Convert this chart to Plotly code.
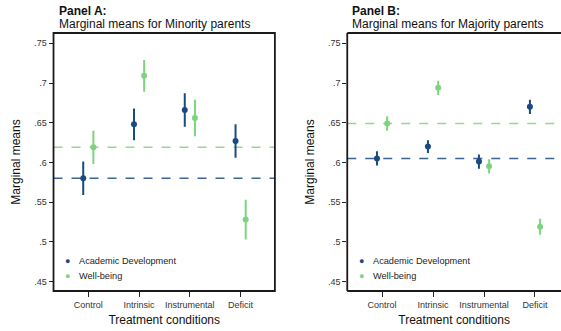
import plotly.graph_objects as go

# Treatment conditions on the x axis
conditions = ["Control", "Intrinsic", "Instrumental", "Deficit"]
x_pos = [1, 2, 3, 4]

# Panel A: minority parents
minority_academic = [0.580, 0.648, 0.666, 0.627]
minority_academic_ci = [0.021, 0.020, 0.021, 0.021]
minority_wellbeing = [0.619, 0.709, 0.656, 0.528]
minority_wellbeing_ci = [0.021, 0.020, 0.023, 0.025]

# Panel B: majority parents
majority_academic = [0.605, 0.620, 0.601, 0.670]
majority_academic_ci = [0.009, 0.008, 0.009, 0.009]
majority_wellbeing = [0.649, 0.694, 0.595, 0.519]
majority_wellbeing_ci = [0.009, 0.009, 0.009, 0.010]

series_names = ["Academic Development", "Well-being"]

y_ticks = [0.45, 0.50, 0.55, 0.60, 0.65, 0.70, 0.75]
y_tick_text = [".45", ".5", ".55", ".6", ".65", ".7", ".75"]

BLUE = "#1a4a80"
GREEN = "#7fd37f"
FONT = "Liberation Sans, Arial, sans-serif"
OFFSET = 0.1

fig = go.Figure()

panels = [
    ("x", "y", minority_academic, minority_academic_ci,
     minority_wellbeing, minority_wellbeing_ci),
    ("x2", "y2", majority_academic, majority_academic_ci,
     majority_wellbeing, majority_wellbeing_ci),
]

for xa, ya, ac, ac_ci, wb, wb_ci in panels:
    for name, vals, ci, col, off in [
        (series_names[0], ac, ac_ci, BLUE, -OFFSET),
        (series_names[1], wb, wb_ci, GREEN, OFFSET),
    ]:
        fig.add_trace(go.Scatter(
            x=[p + off for p in x_pos], y=vals, mode="markers", name=name,
            marker=dict(color=col, size=6),
            error_y=dict(type="data", array=ci, visible=True, color=col,
                         thickness=2, width=0),
            xaxis=xa, yaxis=ya, showlegend=False,
        ))
    # reference lines at the control-condition means
    for vals, col in [(wb, GREEN), (ac, BLUE)]:
        fig.add_shape(type="line", xref=f"{xa} domain", yref=ya,
                      x0=0, x1=1, y0=vals[0], y1=vals[0],
                      line=dict(color=col, width=1.6, dash="dash"),
                      opacity=0.85, layer="below")

A_DOM = [0.0954, 0.490]
B_DOM = [0.619, 1.0]
Y_DOM = [0.1208, 0.9003]

y_common = dict(range=[0.438, 0.763], tickvals=y_ticks, ticktext=y_tick_text,
                showgrid=False, zeroline=False, ticks="outside", ticklen=4,
                tickcolor="#222", tickfont=dict(size=9, color="#333"),
                showline=False, domain=Y_DOM)
x_common = dict(tickvals=x_pos, ticktext=conditions, showgrid=False,
                zeroline=False, ticks="outside", ticklen=5, tickcolor="#222",
                tickfont=dict(size=9, color="#333"), showline=False,
                title=dict(text="Treatment conditions",
                           font=dict(size=12, color="#111"), standoff=6))

fig.update_layout(
    width=561, height=331,
    margin=dict(l=0, r=0, t=0, b=0),
    paper_bgcolor="white", plot_bgcolor="white",
    font=dict(family=FONT, color="#111"),
    xaxis=dict(domain=A_DOM, range=[0.315, 4.675], anchor="y", **x_common),
    xaxis2=dict(domain=B_DOM, range=[0.317, 4.51], anchor="y2", **x_common),
    yaxis=dict(anchor="x", title=dict(text="Marginal means",
               font=dict(size=12, color="#111"), standoff=10), **y_common),
    yaxis2=dict(anchor="x2", title=dict(text="Marginal means",
                font=dict(size=12, color="#111"), standoff=10), **y_common),
    showlegend=False,
)

# Frames: full box for panel A, open on the right for panel B
frame = dict(color="#1a1a1a", width=1.8)
fig.add_shape(type="rect", xref="paper", yref="paper", x0=A_DOM[0],
              x1=A_DOM[1], y0=Y_DOM[0], y1=Y_DOM[1], line=frame)
for (xa0, ya0, xa1, ya1) in [
    (B_DOM[0], Y_DOM[0], B_DOM[0], Y_DOM[1]),
    (B_DOM[0], Y_DOM[1], B_DOM[1], Y_DOM[1]),
    (B_DOM[0], Y_DOM[0], B_DOM[1], Y_DOM[0]),
]:
    fig.add_shape(type="line", xref="paper", yref="paper",
                  x0=xa0, y0=ya0, x1=xa1, y1=ya1, line=frame)

# Panel headings
for xpos, head, sub in [
    (A_DOM[0] + 0.006, "Panel A:", "Marginal means for Minority parents"),
    (B_DOM[0] + 0.005, "Panel B:", "Marginal means for Majority parents"),
]:
    fig.add_annotation(x=xpos, y=1 - 10.5 / 331, xref="paper", yref="paper",
                       text=f"<b>{head}</b>", showarrow=False, xanchor="left",
                       yanchor="middle", font=dict(size=12, color="#111"))
    fig.add_annotation(x=xpos, y=1 - 23.5 / 331, xref="paper", yref="paper",
                       text=sub, showarrow=False, xanchor="left",
                       yanchor="middle", font=dict(size=12, color="#111"))

# Legend keys inside each panel
for left_px in [67.7, 361.5]:
    for i, (name, col) in enumerate(zip(series_names, [BLUE, GREEN])):
        ypix = 260.5 + 15 * i
        fig.add_annotation(x=left_px / 561, y=1 - ypix / 331, xref="paper",
                           yref="paper", text="●", showarrow=False,
                           xanchor="center", yanchor="middle",
                           font=dict(size=9, color=col))
        fig.add_annotation(x=(left_px + 9.3) / 561, y=1 - ypix / 331,
                           xref="paper", yref="paper", text=name,
                           showarrow=False, xanchor="left", yanchor="middle",
                           font=dict(size=9.2, color="#222"))

fig.write_html("out.html")
